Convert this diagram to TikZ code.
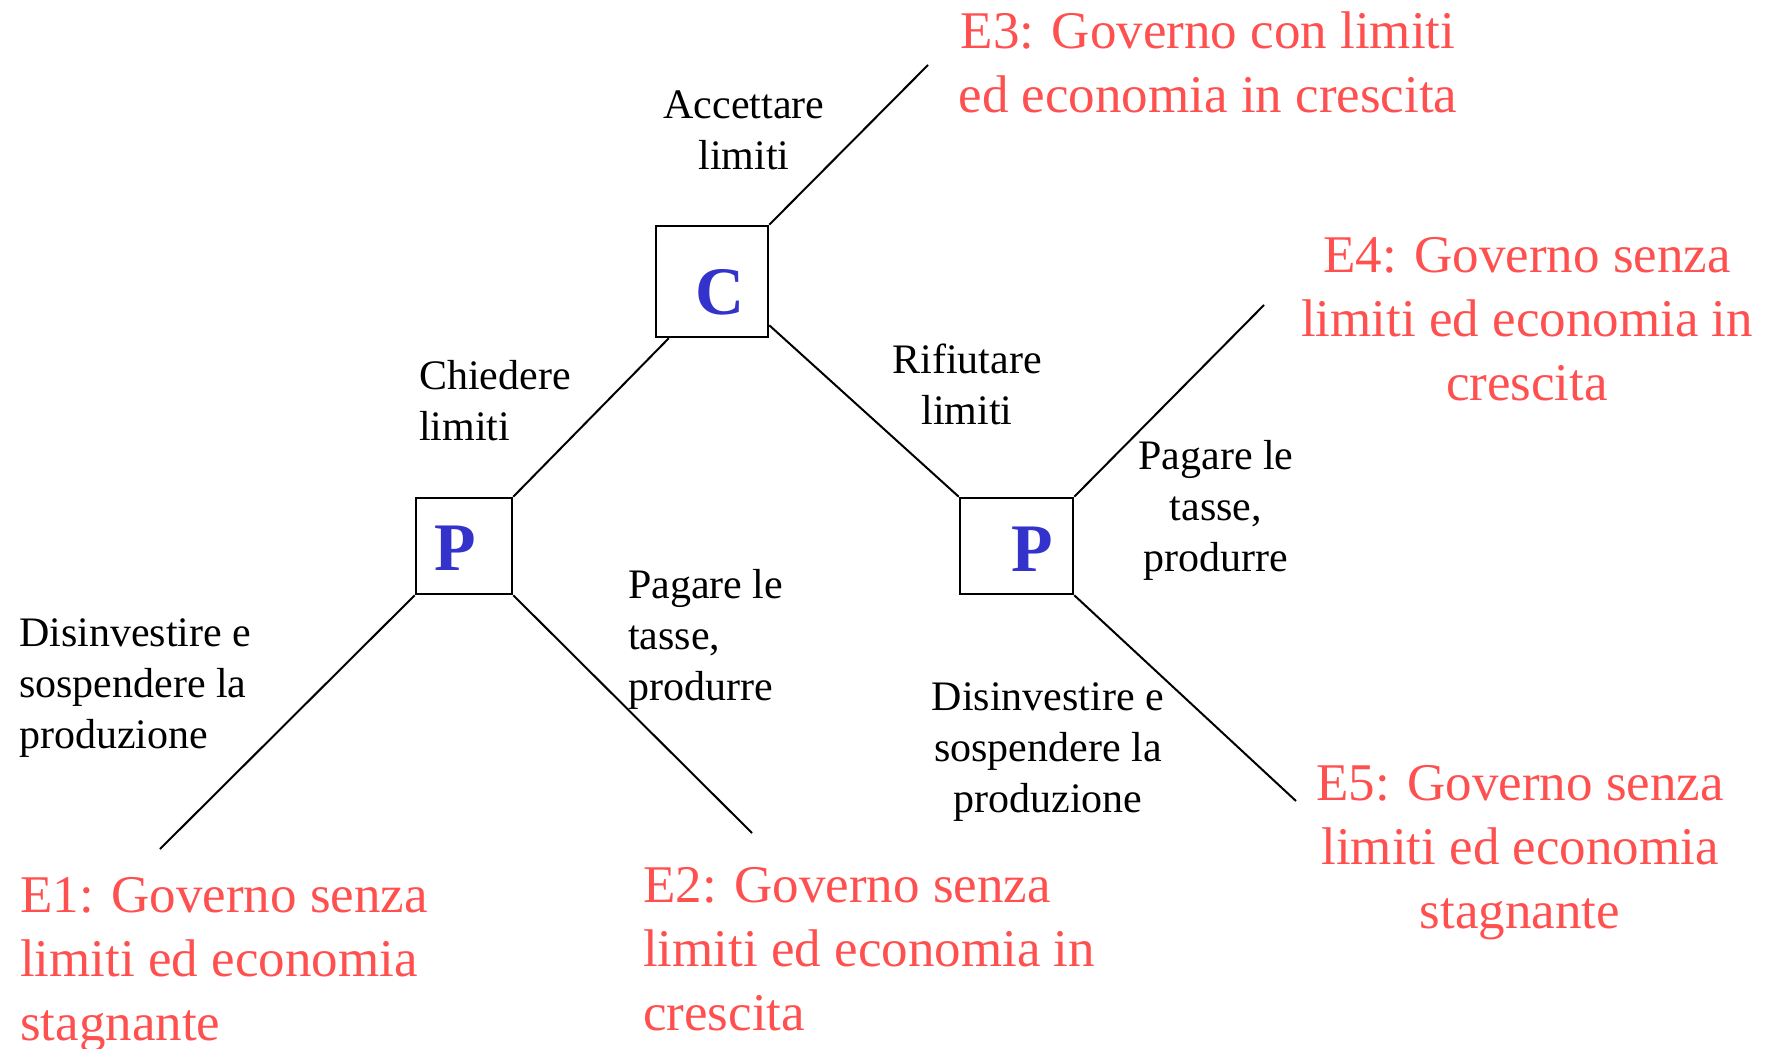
\documentclass[tikz,border=0pt]{standalone}
\usepackage{fontspec}
\setmainfont{Liberation Serif}
\definecolor{redout}{RGB}{255,80,80}
\definecolor{bluepl}{RGB}{51,51,204}
\begin{document}
\begin{tikzpicture}[x=1pt,y=-1pt,
  pbox/.style={draw,line width=2.5pt,inner sep=0pt},
  player/.style={font=\fontsize{68}{80}\selectfont\bfseries,text=bluepl,inner sep=0pt},
  lab/.style={font=\fontsize{42}{51}\selectfont,inner sep=0pt},
  outc/.style={font=\fontsize{53}{64}\selectfont,text=redout,inner sep=0pt},
  branch/.style={line width=2pt}]
\useasboundingbox (0,0) rectangle (1770,1049);
% decision boxes
\node[pbox,minimum width=112pt,minimum height=111pt] (C) at (712,281.5) {};
\node[pbox,minimum width=96pt,minimum height=96pt] (PL) at (464,546) {};
\node[pbox,minimum width=113pt,minimum height=96pt] (PR) at (1016.5,546) {};
\node[player] (Cl) at (720,292) {C};
\node[player] (PLl) at (455,548) {P};
\node[player] (PRl) at (1032,549) {P};
% free ends
\coordinate (e3) at (928,65);
\coordinate (e4) at (1264,305);
\coordinate (e5) at (1296,801);
\coordinate (e1) at (160,849);
\coordinate (e2) at (752,833);
% branches
\draw[branch] (C.north east) -- (e3);
\draw[branch] ([xshift=14pt]C.south west) -- (PL.north east);
\draw[branch] ([yshift=13pt]C.south east) -- (PR.north west);
\draw[branch] (PL.south west) -- (e1);
\draw[branch] (PL.south east) -- (e2);
\draw[branch] (PR.north east) -- (e4);
\draw[branch] (PR.south east) -- (e5);
% action labels
\node[lab,align=center] (a1) at (744,130.5) {Accettare\\limiti};
\node[lab,align=left,anchor=west] (a2) at (419,400.5) {Chiedere\\limiti};
\node[lab,align=center] (a3) at (967,384.5) {Rifiutare\\limiti};
\node[lab,align=center] (a4) at (1216,510) {Pagare le\\tasse,\\produrre};
\node[lab,align=left,anchor=west] (a5) at (628,639) {Pagare le\\tasse,\\produrre};
\node[lab,align=left,anchor=west] (a6) at (19,688) {Disinvestire e\\sospendere la\\produzione};
\node[lab,align=center] (a7) at (1048,752) {Disinvestire e\\sospendere la\\produzione};
% outcomes
\node[outc,align=center] (o3) at (1208,62.5) {E3: Governo con limiti\\ed economia in crescita};
\node[outc,align=center] (o4) at (1527,319) {E4: Governo senza\\limiti ed economia in\\crescita};
\node[outc,align=left,anchor=west] (o1) at (20,965) {E1: Governo senza\\limiti ed economia\\stagnante};
\node[outc,align=left,anchor=west] (o2) at (643,949) {E2: Governo senza\\limiti ed economia in\\crescita};
\node[outc,align=center] (o5) at (1520,853) {E5: Governo senza\\limiti ed economia\\stagnante};
\end{tikzpicture}
\end{document}
